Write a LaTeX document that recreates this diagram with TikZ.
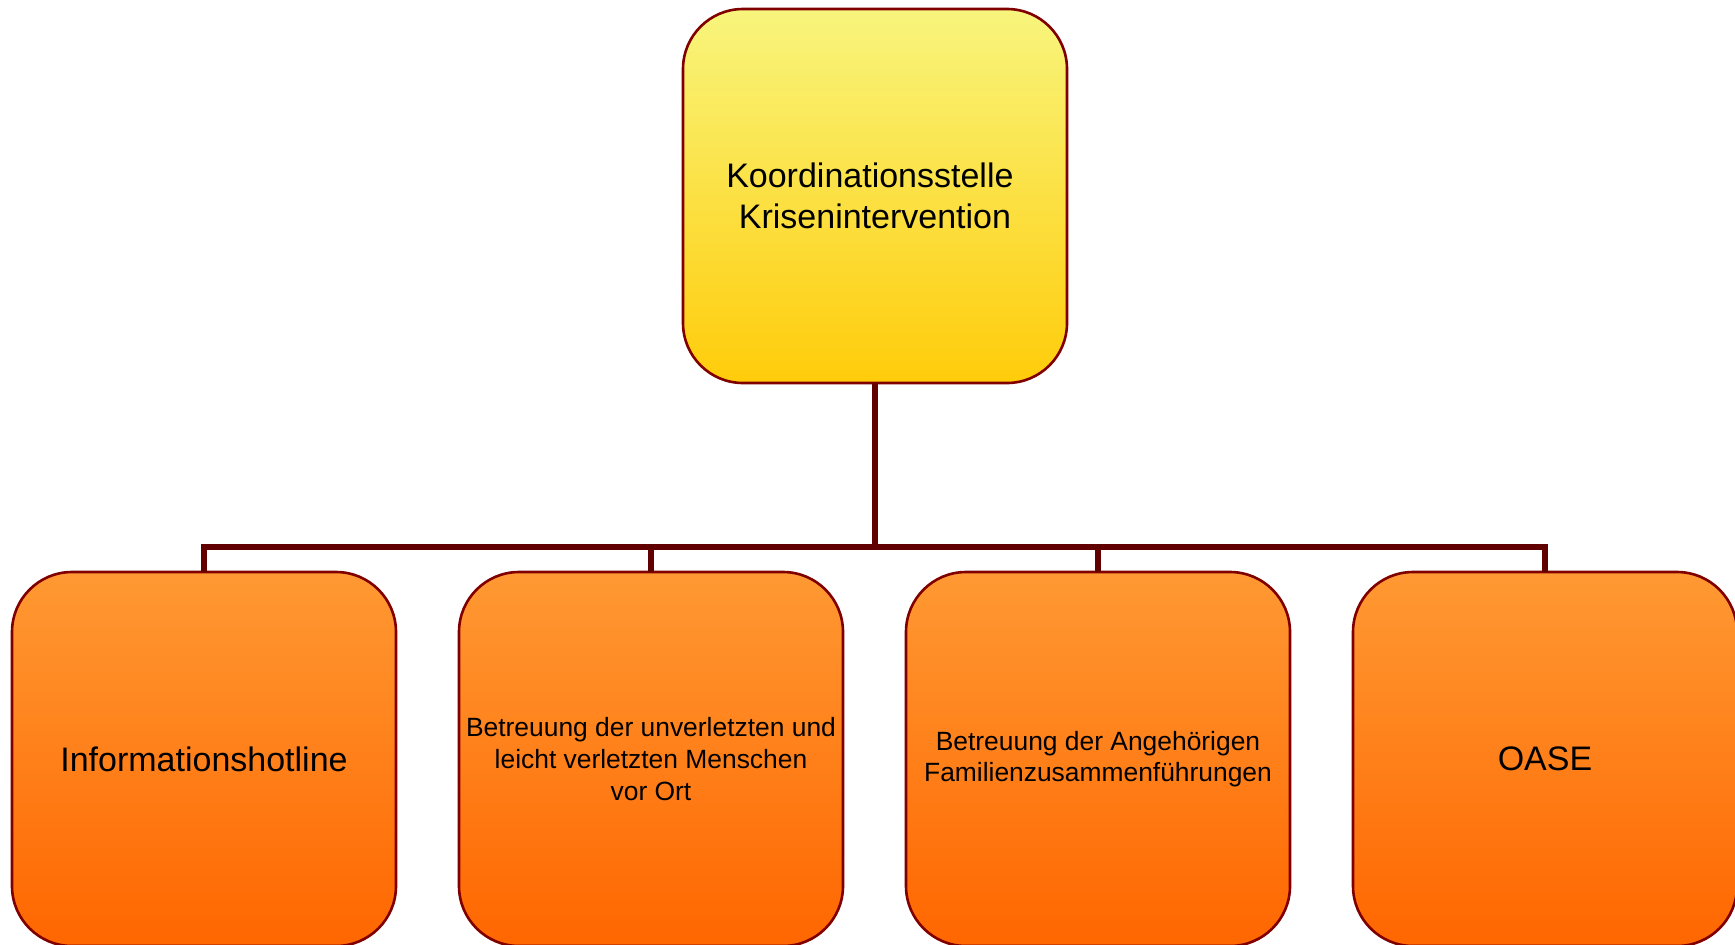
\documentclass[tikz,border=0pt]{standalone}
\usepackage{fontspec}
\setmainfont{Liberation Sans}
\usepackage{tikz}
\usetikzlibrary{positioning}
\definecolor{boxborder}{RGB}{128,0,0}
\definecolor{linkcolor}{RGB}{96,0,0}
\definecolor{yellowtop}{RGB}{248,245,125}
\definecolor{yellowbot}{RGB}{255,204,10}
\definecolor{orangetop}{RGB}{255,153,51}
\definecolor{orangebot}{RGB}{255,102,0}

\begin{document}
\begin{tikzpicture}[
    x=0.5pt, y=-0.5pt,
    unit/.style={rectangle, rounded corners=30pt, draw=boxborder, line width=1.3pt, minimum width=192pt, minimum height=187pt, align=center, inner sep=0pt, outer sep=0pt},
    head/.style={unit, top color=yellowtop, bottom color=yellowbot, font=\fontsize{17}{20.5}\selectfont},
    team/.style={unit, top color=orangetop, bottom color=orangebot, font=\fontsize{17}{20.5}\selectfont},
    small/.style={font=\fontsize{13.2}{15.8}\selectfont},
    link/.style={draw=linkcolor, line width=3pt}
]
\useasboundingbox (0,0) rectangle (1735,944);

\node[head] (head) at (875,196) {Koordinationsstelle\hspace*{0.3em}\\Krisenintervention};
\node[team] (hotline) at (204,759) {Informationshotline};
\node[team, small, right=31.5pt of hotline] (betreuung) {Betreuung der unverletzten und\\leicht verletzten Menschen\\vor Ort};
\node[team, small, right=31.5pt of betreuung] (angehoerige) {Betreuung der Angehörigen\\Familienzusammenführungen};
\node[team, right=31.5pt of angehoerige] (oase) {OASE};

\coordinate (bus) at (875,547);
\draw[link] (head.south) -- (head.south |- bus);
\draw[link] (hotline.north) |- (bus -| oase.north) -- (oase.north);
\draw[link] (betreuung.north) -- (betreuung.north |- bus);
\draw[link] (angehoerige.north) -- (angehoerige.north |- bus);

\end{tikzpicture}
\end{document}
